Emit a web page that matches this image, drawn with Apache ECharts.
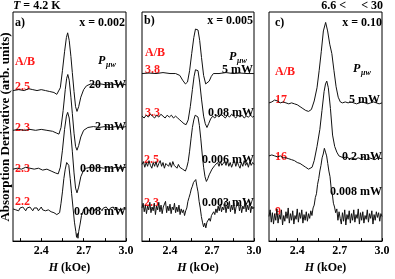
<!DOCTYPE html>
<html><head><meta charset="utf-8">
<script src="https://cdn.jsdelivr.net/npm/echarts@6/dist/echarts.min.js"></script>
<style>html,body{margin:0;padding:0;background:#fff}#c{width:395px;height:279px}</style>
</head><body><div id="c"></div>
<script>
// ---- data (field in kOe, signal in arbitrary units) ----
const fieldTicks = [2.25, 2.4, 2.55, 2.7, 2.85, 3.0];
const fieldLabels = [2.4, 2.7, 3.0];
const panelNames = ['a)', 'b)', 'c)'];
const panelX = ['x = 0.002', 'x = 0.005', 'x = 0.10'];
const abA = ['2.5', '2.3', '2.3', '2.2'];
const powA = ['20 mW', '2 mW', '0.08 mW', '0.008 mW'];
const abB = ['3.8', '3.3', '2.5', '2.3'];
const powB = ['5 mW', '0.08 mW', '0.006 mW', '0.003 mW'];
const abC = ['17', '16', '9'];
const powC = ['5 mW', '0.2 mW', '0.008 mW'];

const a_20mW = [[2.20,159],[2.24,160],[2.28,159],[2.31,161],[2.34,160],[2.37,159],[2.40,160],[2.43,159],[2.46,158],[2.49,157],[2.51,155],[2.52,154],[2.535,162],[2.55,180],[2.565,200],[2.578,215],[2.587,220],[2.598,212],[2.61,195],[2.62,178],[2.632,158],[2.643,142],[2.653,137],[2.665,142],[2.68,152],[2.70,160],[2.72,164],[2.75,166],[2.78,165],[2.82,166],[2.86,165],[2.90,166],[2.94,165],[2.97,166],[3.00,165]];
const a_2mW = [[2.20,117],[2.24,118],[2.28,117],[2.32,118],[2.36,117],[2.40,118],[2.44,117],[2.48,116],[2.51,114],[2.525,113],[2.54,120],[2.555,138],[2.57,160],[2.58,172],[2.588,176],[2.598,170],[2.61,152],[2.62,135],[2.632,114],[2.643,100],[2.653,96],[2.665,101],[2.68,110],[2.70,117],[2.73,120],[2.77,121],[2.81,120],[2.85,121],[2.89,120],[2.93,121],[2.97,120],[3.00,121]];
const a_008mW = [[2.20,76],[2.23,77],[2.26,76],[2.29,78],[2.32,77],[2.35,76],[2.38,77],[2.41,75],[2.44,76],[2.47,74],[2.50,72],[2.52,71],[2.535,78],[2.55,96],[2.565,118],[2.578,132],[2.587,136],[2.598,130],[2.61,112],[2.62,95],[2.632,72],[2.643,56],[2.653,51],[2.665,57],[2.68,68],[2.70,75],[2.72,77],[2.75,78],[2.78,77],[2.81,78],[2.84,77],[2.87,78],[2.90,77],[2.93,78],[2.96,77],[3.00,78]];
const a_0008mW = [[2.20,34],[2.21,36],[2.22,33],[2.23,35],[2.24,32],[2.25,35],[2.26,33],[2.27,36],[2.28,34],[2.29,32],[2.30,35],[2.31,33],[2.32,36],[2.33,34],[2.34,32],[2.35,35],[2.36,33],[2.37,35],[2.38,32],[2.39,34],[2.40,36],[2.41,33],[2.42,35],[2.43,32],[2.44,34],[2.45,33],[2.46,35],[2.47,31],[2.48,33],[2.49,30],[2.50,31],[2.51,28],[2.52,27],[2.53,30],[2.54,40],[2.55,52],[2.56,66],[2.57,76],[2.58,83],[2.587,84],[2.595,80],[2.605,66],[2.615,50],[2.625,35],[2.635,20],[2.645,10],[2.65,4],[2.655,8],[2.66,3],[2.665,10],[2.675,18],[2.685,27],[2.695,31],[2.70,34],[2.71,32],[2.72,36],[2.73,33],[2.74,35],[2.75,32],[2.76,36],[2.77,34],[2.78,32],[2.79,35],[2.80,33],[2.81,36],[2.82,34],[2.83,32],[2.84,35],[2.85,33],[2.86,36],[2.87,34],[2.88,32],[2.89,35],[2.90,34],[2.91,36],[2.92,33],[2.93,35],[2.94,34],[2.95,36],[2.96,33],[2.97,35],[2.98,34],[2.99,36],[3.00,34]];

const b_5mW = [[2.20,177],[2.25,177.5],[2.30,177],[2.35,178],[2.40,177],[2.44,177],[2.47,175],[2.49,170],[2.51,166],[2.525,168],[2.54,180],[2.555,198],[2.57,215],[2.582,224],[2.591,226],[2.60,223],[2.612,212],[2.625,194],[2.64,175],[2.655,166],[2.667,165],[2.68,169],[2.695,174],[2.71,177],[2.75,177],[2.80,178],[2.85,177],[2.90,177.5],[2.95,177],[3.00,177]];
const b_008mW = [[2.20,132],[2.215,130],[2.23,133],[2.245,131],[2.26,134],[2.275,132],[2.29,130],[2.305,133],[2.32,131],[2.335,134],[2.35,132],[2.365,130],[2.38,133],[2.395,131],[2.41,133],[2.425,130],[2.44,132],[2.455,130],[2.47,128],[2.485,126],[2.50,124],[2.515,123],[2.53,128],[2.545,142],[2.56,160],[2.572,174],[2.582,181],[2.591,183],[2.60,180],[2.612,168],[2.625,150],[2.64,132],[2.652,124],[2.664,120],[2.676,124],[2.69,129],[2.705,132],[2.72,130],[2.735,133],[2.75,131],[2.765,134],[2.78,132],[2.795,130],[2.81,133],[2.825,131],[2.84,134],[2.855,132],[2.87,130],[2.885,133],[2.90,131],[2.915,133],[2.93,130],[2.945,132],[2.96,131],[2.975,133],[2.99,131],[3.00,132]];
const b_0006mW = [[2.20,81],[2.21,84],[2.22,78],[2.23,83],[2.24,79],[2.25,85],[2.26,80],[2.27,77],[2.28,83],[2.29,79],[2.30,84],[2.31,78],[2.32,82],[2.33,85],[2.34,79],[2.35,83],[2.36,77],[2.37,82],[2.38,84],[2.39,79],[2.40,83],[2.41,78],[2.42,84],[2.43,80],[2.44,82],[2.45,77],[2.46,81],[2.47,78],[2.48,80],[2.49,76],[2.50,77],[2.51,74],[2.52,78],[2.53,84],[2.54,95],[2.55,108],[2.56,120],[2.57,128],[2.58,133],[2.59,135],[2.60,131],[2.61,122],[2.62,108],[2.63,92],[2.64,78],[2.65,68],[2.66,63],[2.67,66],[2.68,70],[2.69,72],[2.70,76],[2.71,75],[2.72,80],[2.73,78],[2.74,83],[2.75,79],[2.76,84],[2.77,80],[2.78,78],[2.79,84],[2.80,80],[2.81,85],[2.82,79],[2.83,83],[2.84,78],[2.85,82],[2.86,85],[2.87,79],[2.88,84],[2.89,80],[2.90,77],[2.91,83],[2.92,79],[2.93,85],[2.94,80],[2.95,83],[2.96,78],[2.97,84],[2.98,80],[2.99,83],[3.00,81]];
const b_0003mW = [[2.200,35],[2.208,40],[2.216,31],[2.224,38],[2.232,29],[2.240,37],[2.248,33],[2.256,41],[2.264,30],[2.272,36],[2.280,32],[2.288,40],[2.296,28],[2.304,37],[2.312,33],[2.320,41],[2.328,31],[2.336,38],[2.344,29],[2.352,36],[2.360,34],[2.368,42],[2.376,30],[2.384,37],[2.392,32],[2.400,39],[2.408,29],[2.416,36],[2.424,33],[2.432,40],[2.440,30],[2.448,36],[2.456,31],[2.464,38],[2.472,28],[2.480,34],[2.488,30],[2.496,33],[2.504,27],[2.512,32],[2.520,35],[2.528,42],[2.536,46],[2.544,50],[2.552,55],[2.560,58],[2.568,62],[2.576,60],[2.584,65],[2.592,58],[2.600,52],[2.608,42],[2.616,35],[2.624,26],[2.632,20],[2.640,15],[2.648,19],[2.656,14],[2.664,20],[2.672,18],[2.680,24],[2.688,21],[2.696,27],[2.704,25],[2.712,31],[2.720,28],[2.728,34],[2.736,30],[2.744,37],[2.752,32],[2.760,39],[2.768,31],[2.776,36],[2.784,33],[2.792,41],[2.800,30],[2.808,37],[2.816,34],[2.824,42],[2.832,31],[2.840,38],[2.848,33],[2.856,40],[2.864,29],[2.872,36],[2.880,34],[2.888,41],[2.896,32],[2.904,38],[2.912,30],[2.920,37],[2.928,34],[2.936,42],[2.944,31],[2.952,38],[2.960,33],[2.968,40],[2.976,30],[2.984,37],[2.992,34],[3.000,36]];

const c_5mW = [[2.20,146],[2.22,147],[2.24,149],[2.26,148],[2.28,146],[2.30,147],[2.32,146],[2.34,145],[2.36,146],[2.38,145],[2.40,144],[2.42,142],[2.44,140],[2.46,138],[2.48,137],[2.50,139],[2.52,148],[2.54,162],[2.555,180],[2.57,200],[2.585,222],[2.601,231],[2.615,222],[2.63,208],[2.645,198],[2.66,180],[2.675,163],[2.69,152],[2.705,147],[2.72,146],[2.74,147],[2.76,146],[2.78,147],[2.80,146],[2.82,145],[2.84,146],[2.86,147],[2.88,146],[2.90,145],[2.92,146],[2.94,147],[2.96,146],[2.98,145],[3.00,146]];
const c_02mW = [[2.20,90],[2.22,91],[2.24,90],[2.26,89],[2.28,90],[2.30,88],[2.32,88],[2.34,87],[2.36,86],[2.38,85],[2.40,83],[2.42,82],[2.44,80],[2.46,78],[2.48,76],[2.49,75],[2.505,78],[2.52,85],[2.54,100],[2.56,118],[2.575,138],[2.59,158],[2.60,166],[2.609,169],[2.62,162],[2.635,140],[2.65,112],[2.665,100],[2.68,94],[2.695,90],[2.71,89],[2.73,88],[2.75,89],[2.77,87],[2.79,88],[2.81,86],[2.83,88],[2.85,87],[2.87,89],[2.89,86],[2.91,88],[2.93,87],[2.95,86],[2.97,88],[3.00,87]];
const c_0008mW = [[2.200,26],[2.208,33],[2.216,20],[2.224,30],[2.232,18],[2.240,29],[2.248,22],[2.256,34],[2.264,19],[2.272,28],[2.280,23],[2.288,33],[2.296,17],[2.304,27],[2.312,21],[2.320,31],[2.328,24],[2.336,35],[2.344,19],[2.352,29],[2.360,22],[2.368,32],[2.376,18],[2.384,27],[2.392,23],[2.400,34],[2.408,20],[2.416,30],[2.424,24],[2.432,33],[2.440,19],[2.448,28],[2.456,22],[2.464,31],[2.472,21],[2.480,29],[2.488,24],[2.496,32],[2.504,27],[2.512,35],[2.520,38],[2.528,46],[2.536,50],[2.544,60],[2.552,66],[2.560,74],[2.568,80],[2.576,88],[2.584,92],[2.592,98],[2.600,94],[2.608,90],[2.616,82],[2.624,74],[2.632,68],[2.640,56],[2.648,50],[2.656,40],[2.664,36],[2.672,30],[2.680,34],[2.688,22],[2.696,31],[2.704,24],[2.712,18],[2.720,30],[2.728,21],[2.736,33],[2.744,17],[2.752,28],[2.760,23],[2.768,32],[2.776,19],[2.784,29],[2.792,22],[2.800,33],[2.808,20],[2.816,28],[2.824,24],[2.832,34],[2.840,18],[2.848,30],[2.856,22],[2.864,31],[2.872,19],[2.880,27],[2.888,23],[2.896,33],[2.904,20],[2.912,29],[2.920,24],[2.928,32],[2.936,18],[2.944,28],[2.952,22],[2.960,31],[2.968,25],[2.976,30],[2.984,21],[2.992,29],[3.000,26]];

const panelTraces = [
  [a_20mW, a_2mW, a_008mW, a_0008mW],
  [b_5mW, b_008mW, b_0006mW, b_0003mW],
  [c_5mW, c_02mW, c_0008mW]
];

// ---- layout / styling ----
const FONT = '"Liberation Serif", "Times New Roman", serif';
const grids = [
  {left: 13, top: 12, width: 113, height: 242},
  {left: 142, top: 12, width: 112, height: 242},
  {left: 269, top: 12, width: 113, height: 242}
];

const chart = echarts.init(document.getElementById('c'), null, {renderer: 'canvas'});

const xAxes = grids.map((g, i) => ({
  type: 'value', gridIndex: i, min: 2.2, max: 3.0,
  axisLine: {show: true, lineStyle: {color: '#000', width: 1}},
  axisTick: {show: true, inside: true, length: 3, customValues: fieldTicks, lineStyle: {color: '#000'}},
  axisLabel: {show: true, customValues: fieldLabels, margin: 4, color: '#000',
    fontFamily: FONT, fontWeight: 'bold', fontSize: 12, formatter: v => v.toFixed(1)},
  splitLine: {show: false},
  name: '{i|H} (kOe)', nameLocation: 'middle', nameGap: 19,
  nameTextStyle: {color: '#000', fontFamily: FONT, fontWeight: 'bold', fontSize: 12,
    rich: {i: {fontStyle: 'italic', fontWeight: 'bold', fontFamily: FONT, fontSize: 12, color: '#000'}}}
}));
const yAxes = grids.map((g, i) => ({
  type: 'value', gridIndex: i, min: 0, max: 242, show: false
}));

const series = [];
panelTraces.forEach((traces, p) => {
  traces.forEach(tr => {
    series.push({type: 'line', xAxisIndex: p, yAxisIndex: p, data: tr, showSymbol: false,
      symbol: 'none', lineStyle: {color: '#111', width: 1}, clip: true, silent: true});
  });
});

function txt(x, y, text, align, color, extra) {
  return Object.assign({type: 'text', x: x, y: y, silent: true, style: Object.assign({
    text: text, fill: color || '#000', font: 'bold 12px ' + FONT,
    align: align || 'left', verticalAlign: 'middle'
  }, extra || {})});
}
function pmw(x, y) {
  return [
    txt(x, y, 'P', 'left', '#000', {font: 'italic bold 12px ' + FONT}),
    txt(x + 8, y + 4, 'μw', 'left', '#000', {font: 'italic bold 8px ' + FONT})
  ];
}
const RED = '#ff1a1a';
const graphics = [
  txt(13, 6, '{i|T} = 4.2 K', 'left', '#000', {rich: {i: {font: 'italic bold 12px ' + FONT, fill: '#000'}}}),
  txt(383, 6, '6.6 <     < 30', 'right'),
  {type: 'text', x: 6, y: 127, rotation: Math.PI / 2, silent: true,
    style: {text: 'Absorption Derivative (arb. units)', fill: '#000', font: 'bold 13px ' + FONT,
      align: 'center', verticalAlign: 'middle'}},
  // panel a
  txt(15, 23, panelNames[0]), txt(125, 23, panelX[0], 'right'),
  txt(15, 62, 'A/B', 'left', RED), ...pmw(98, 61),
  txt(15, 87, abA[0], 'left', RED), txt(126, 85, powA[0], 'right'),
  txt(15, 128, abA[1], 'left', RED), txt(126, 127, powA[1], 'right'),
  txt(15, 169, abA[2], 'left', RED), txt(126, 169, powA[2], 'right'),
  txt(15, 202, abA[3], 'left', RED), txt(126, 212, powA[3], 'right'),
  // panel b
  txt(144, 21, panelNames[1]), txt(253, 21, panelX[1], 'right'),
  txt(145, 53, 'A/B', 'left', RED), ...pmw(229, 57),
  txt(145, 70, abB[0], 'left', RED), txt(253, 70, powB[0], 'right'),
  txt(145, 113, abB[1], 'left', RED), txt(254, 113, powB[1], 'right'),
  txt(144, 160, abB[2], 'left', RED), txt(254, 160, powB[2], 'right'),
  txt(144, 203, abB[3], 'left', RED), txt(254, 203, powB[3], 'right'),
  // panel c
  txt(275, 23, panelNames[2]), txt(382, 23, panelX[2], 'right'),
  txt(275, 72, 'A/B', 'left', RED), ...pmw(353, 69),
  txt(275, 100, abC[0], 'left', RED), txt(380, 100, powC[0], 'right'),
  txt(275, 157, abC[1], 'left', RED), txt(382, 157, powC[1], 'right'),
  txt(275, 212, abC[2], 'left', RED), txt(382, 192, powC[2], 'right')
];

chart.setOption({
  animation: false,
  backgroundColor: '#fff',
  grid: grids.map(g => Object.assign({show: true, borderColor: '#000', borderWidth: 1, backgroundColor: 'transparent'}, g)),
  xAxis: xAxes,
  yAxis: yAxes,
  series: series,
  graphic: graphics
});
</script></body></html>
